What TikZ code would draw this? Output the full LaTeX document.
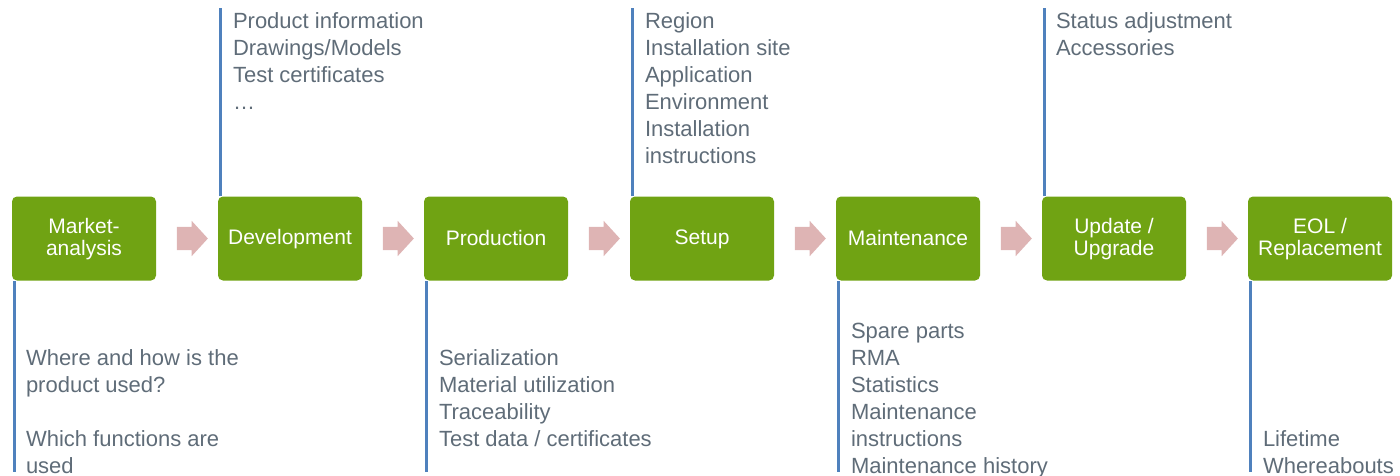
\documentclass[tikz,border=0pt]{standalone}
\usepackage{fontspec}
\setmainfont{Liberation Sans}
\usetikzlibrary{shapes.arrows, calc, positioning}

\definecolor{stepgreen}{RGB}{112,163,19}
\definecolor{flowpink}{RGB}{222,180,180}
\definecolor{infoblue}{RGB}{79,129,189}
\definecolor{infogrey}{RGB}{95,108,120}

\newcommand\boxstrut{\rule[-3pt]{0pt}{19pt}}

\tikzset{
  stepbox/.style={fill=stepgreen, rounded corners=5pt, minimum width=144pt, minimum height=84pt,
    text=white, align=center, inner sep=0pt, font=\fontsize{21}{22}\selectfont},
  flowarrow/.style={single arrow, fill=flowpink, draw=none, minimum height=31pt, minimum width=35pt,
    inner xsep=0pt, inner ysep=11.5pt, single arrow head extend=6pt, single arrow tip angle=95},
  infoline/.style={infoblue, line width=3pt},
  infotext/.style={anchor=north west, align=left, inner sep=0pt, text=infogrey,
    font=\fontsize{22}{27}\selectfont},
}

\begin{document}
\begin{tikzpicture}[x=1pt, y=-1pt]
\useasboundingbox (0,0) rectangle (1400,476);

% process steps
\foreach \name/\label [count=\i] in {market/{\boxstrut Market-\\\boxstrut analysis},
    devel/\boxstrut Development, prod/\boxstrut Production, setup/\boxstrut Setup,
    maint/\boxstrut Maintenance, update/{\boxstrut Update /\\\boxstrut Upgrade},
    eol/{\boxstrut EOL /\\\boxstrut Replacement}}{
    \node[stepbox] (\name) at (84+206*\i-206, 238.5) {\label};
}

% arrows between the steps
\foreach \a/\b in {market/devel, devel/prod, prod/setup, setup/maint, maint/update, update/eol}{
    \node[flowarrow] (arr-\a) at ($(\a.east)!0.5!(\b.west)$) {};
}

% lists above
\foreach \name in {devel, setup, update}{
    \draw[infoline] ([xshift=3pt]\name.north west) -- ++(0,-188) coordinate (\name-top);
}
\node[infotext] (devel-info) at ([xshift=12pt,yshift=-1pt]devel-top)
    {\strut Product information\\Drawings/Models\\Test certificates\\…};
\node[infotext] (setup-info) at ([xshift=12pt,yshift=-1pt]setup-top)
    {\strut Region\\Installation site\\Application\\Environment\\Installation\\instructions};
\node[infotext] (update-info) at ([xshift=11pt,yshift=-1pt]update-top)
    {\strut Status adjustment\\Accessories};

% lists below
\foreach \name in {market, prod, maint, eol}{
    \draw[infoline] ([xshift=3pt]\name.south west) -- ++(0,191) coordinate (\name-bot);
}
\node[infotext] (market-info) at ([xshift=14pt,yshift=-66pt]market.south west)
    {\strut Where and how is the\\product used?\\[27pt]Which functions are\\used};
\node[infotext] (prod-info) at ([xshift=15pt,yshift=-66pt]prod.south west)
    {\strut Serialization\\Material utilization\\Traceability\\Test data / certificates};
\node[infotext] (maint-info) at ([xshift=15pt,yshift=-39pt]maint.south west)
    {\strut Spare parts\\RMA\\Statistics\\Maintenance\\instructions\\Maintenance history};
\node[infotext] (eol-info) at ([xshift=15pt,yshift=-147pt]eol.south west)
    {\strut Lifetime\\Whereabouts};

\end{tikzpicture}
\end{document}
